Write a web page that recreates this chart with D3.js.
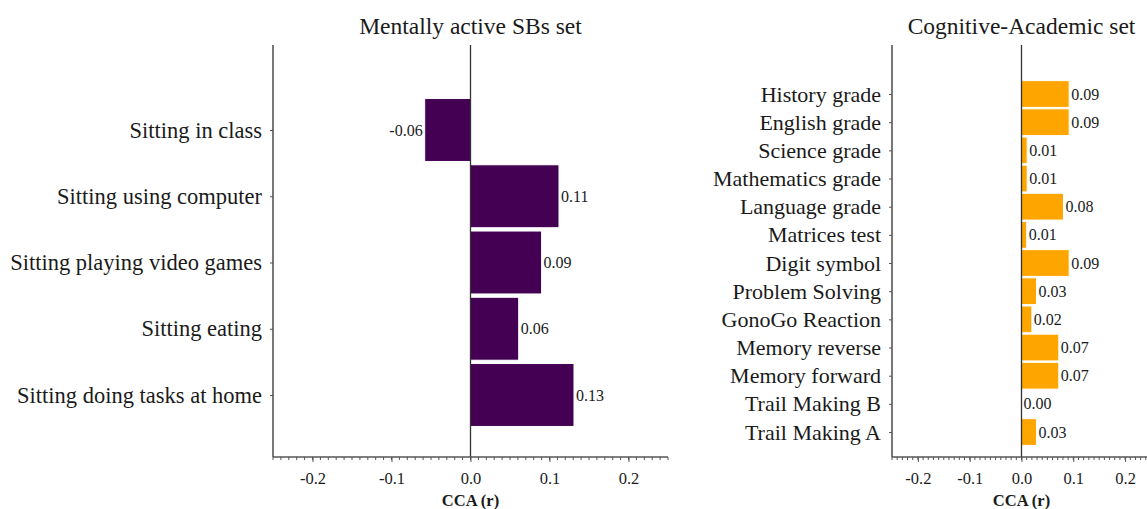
<!DOCTYPE html>
<html><head><meta charset="utf-8">
<script src="https://cdn.jsdelivr.net/npm/d3@7"></script>
<style>body{margin:0;background:#fff}svg{display:block}text{font-family:"Liberation Serif","Times New Roman",serif;fill:#1a1a1a}</style>
</head><body><svg id="c" width="1147" height="509"></svg>
<script>
const leftCategories = ["Sitting in class","Sitting using computer","Sitting playing video games","Sitting eating","Sitting doing tasks at home"];
const leftValues = [-0.058, 0.112, 0.090, 0.061, 0.131];
const leftLabels = ["-0.06","0.11","0.09","0.06","0.13"];
const rightCategories = ["History grade","English grade","Science grade","Mathematics grade","Language grade","Matrices test","Digit symbol","Problem Solving","GonoGo Reaction","Memory reverse","Memory forward","Trail Making B","Trail Making A"];
const rightValues = [0.092, 0.092, 0.011, 0.011, 0.081, 0.010, 0.092, 0.029, 0.020, 0.072, 0.072, 0.000, 0.029];
const rightLabels = ["0.09","0.09","0.01","0.01","0.08","0.01","0.09","0.03","0.02","0.07","0.07","0.00","0.03"];
const xTicks = [-0.2,-0.1,0.0,0.1,0.2];
const titles = ["Mentally active SBs set","Cognitive-Academic set"];

const svg = d3.select("#c");

function panel(o){
  const g = svg.append("g");
  const x = d3.scaleLinear().domain([-0.25,0.25]).range([o.x0,o.x1]);
  const y = d3.scaleLinear().domain(o.idxDomain).range([o.y0,o.y1]);
  const bh = o.step*0.95;
  g.selectAll("rect.bar").data(o.values).join("rect")
    .attr("x",d=>x(Math.min(0,d))).attr("width",d=>Math.abs(x(d)-x(0)))
    .attr("y",(d,i)=>y(i)-bh/2).attr("height",bh)
    .attr("fill",o.color).attr("stroke","#fff").attr("stroke-width",1);
  g.append("line").attr("x1",x(0)).attr("x2",x(0)).attr("y1",o.y0).attr("y2",o.y1)
    .attr("stroke","#333").attr("stroke-width",1.3);
  const ya = d3.axisLeft(y).tickValues(d3.range(o.cats.length)).tickFormat(i=>o.cats[i]).tickSize(3).tickPadding(8);
  const yg = g.append("g").attr("transform",`translate(${o.x0},0)`).call(ya);
  yg.select(".domain").attr("d",`M0,${o.y0}V${o.y1}`).attr("stroke","#555").attr("stroke-width",1.6);
  yg.selectAll(".tick line").attr("stroke","#555");
  yg.selectAll(".tick text").style("font-size",o.catSize+"px").attr("fill","#1a1a1a");
  const minor = d3.range(-25,26).map(k=>k/100);
  const xg = g.append("g").attr("transform",`translate(0,${o.y1})`);
  xg.selectAll("line.minor").data(minor).join("line")
    .attr("x1",d=>x(d)).attr("x2",d=>x(d)).attr("y1",0).attr("y2",3)
    .attr("stroke","#555").attr("stroke-width",1);
  const xa = d3.axisBottom(x).tickValues(xTicks).tickFormat(d3.format(".1f")).tickSize(5).tickPadding(10);
  const xg2 = g.append("g").attr("transform",`translate(0,${o.y1})`).call(xa);
  xg2.select(".domain").attr("d",`M${o.x0},0H${o.x1}`).attr("stroke","#555").attr("stroke-width",1.6);
  xg2.selectAll(".tick line").attr("stroke","#555");
  xg2.selectAll(".tick text").style("font-size","16.5px").attr("fill","#1a1a1a")
    .text(d=>d3.format(".1f")(d).replace("−","-"));
  g.append("text").attr("x",x(0)).attr("y",o.y1+49).attr("text-anchor","middle")
    .style("font-size","16.5px").attr("font-weight","bold").text("CCA (r)");
  g.selectAll("text.val").data(o.values).join("text")
    .attr("x",d=>d<0?x(d)-2:x(d)+2).attr("y",(d,i)=>y(i)).attr("dy","0.35em")
    .attr("text-anchor",d=>d<0?"end":"start").style("font-size",o.valSize+"px").text((d,i)=>o.labels[i]);
  g.append("text").attr("x",x(0)).attr("y",34).attr("text-anchor","middle").style("font-size","23.5px").text(o.title);
}

panel({x0:273,x1:668,y0:45,y1:457,idxDomain:[-1.283,4.936],step:66.25,cats:leftCategories,values:leftValues,labels:leftLabels,color:"#440154",catSize:22.5,valSize:16,title:titles[0]});
panel({x0:892,x1:1151,y0:45,y1:457,idxDomain:[-1.74,12.886],step:28.17,cats:rightCategories,values:rightValues,labels:rightLabels,color:"#FFA500",catSize:22,valSize:16,title:titles[1]});
</script></body></html>
